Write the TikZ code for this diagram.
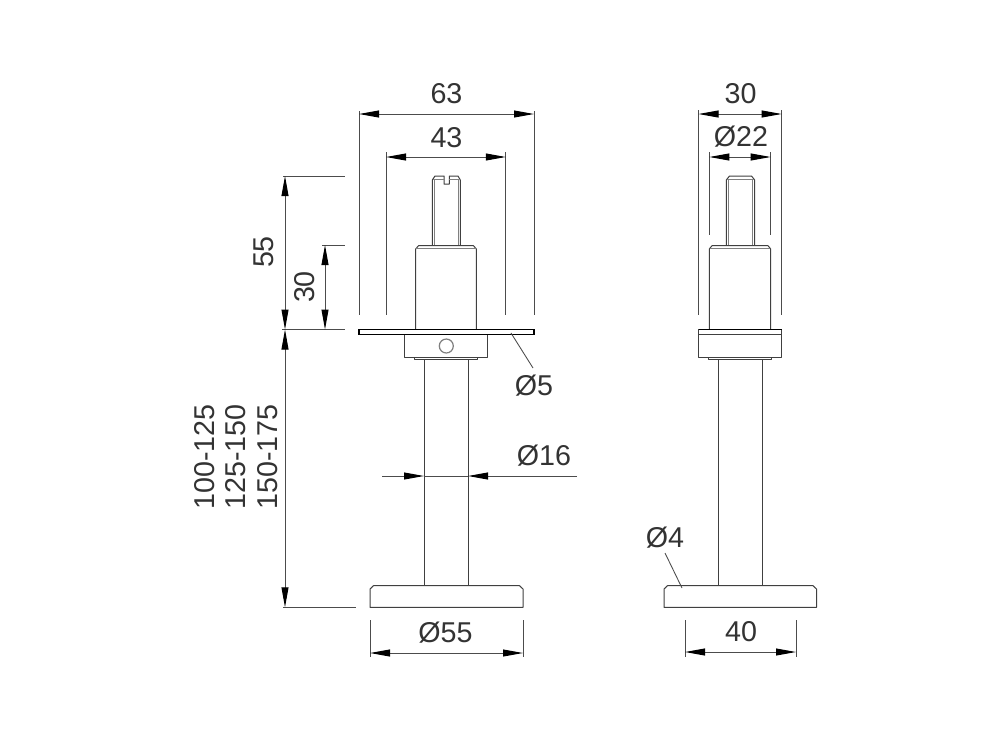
\documentclass[tikz,border=0pt]{standalone}
\usepackage{fontspec}
\setmainfont{Liberation Sans}
\usetikzlibrary{arrows.meta}
\tikzset{
  part/.style={draw=black!75,line width=0.75pt,line join=round},
  thinpart/.style={draw=black!50,line width=0.65pt},
  heavy/.style={draw=black,line width=1pt},
  extline/.style={draw=black!70,line width=0.65pt},
  dimhead/.tip={Triangle[length=15pt,width=5.2pt,color=black,fill=black]},
  dimline/.style={draw=black!70,line width=0.75pt,dimhead-dimhead},
  onehead/.style={draw=black!70,line width=0.75pt,-dimhead},
  lbl/.style={font=\fontsize{21.5}{21.5}\selectfont,text=black!80,inner sep=0pt},
}
\begin{document}
\begin{tikzpicture}[x=0.75pt,y=-0.75pt]
\useasboundingbox (0,0) rectangle (1000,736);
\fill[white] (0,0) rectangle (1000,736);
% ---------- left view ----------
\draw[part] (432.3,245.5) -- (432.3,180) -- (435,176) -- (444,176) -- (444,184) -- (449.3,184) -- (449.3,176) -- (458,176) -- (460.3,180) -- (460.3,245.5);
\draw[thinpart] (434.3,179) -- (434.3,245.5) (458.2,179) -- (458.2,245.5) (433,179) -- (444,179) (449.3,179) -- (460,179);
\draw[part] (415.7,329.5) -- (415.7,249) -- (418.5,245.7) -- (473.5,245.7) -- (476.3,249) -- (476.3,329.5);
\draw[thinpart] (416,248) -- (476,248);
\draw[heavy,fill=white] (359,329.5) rectangle (534,334.7);
\draw[part] (404.5,334.7) -- (404.5,357) -- (487.7,357) -- (487.7,334.7);
\draw[part] (414,357) -- (414,359.6) -- (477.7,359.6) -- (477.7,357);
\draw[thinpart,line width=0.9pt] (446.3,346) circle (7);
\draw[part] (424,359.6) -- (424,585.7) (468,359.6) -- (468,585.7);
\draw[part] (370,607.3) -- (370,589) -- (373.5,585.7) -- (519.5,585.7) -- (523,589) -- (523,607.3) -- cycle;
% ---------- right view ----------
\draw[part] (726.3,245.5) -- (726.3,180) -- (729.5,176) -- (751.5,176) -- (754.7,180) -- (754.7,245.5);
\draw[thinpart] (728.6,179) -- (728.6,245.5) (752.4,179) -- (752.4,245.5) (727,179) -- (754,179);
\draw[part] (709.3,329.5) -- (709.3,249) -- (712,245.7) -- (768,245.7) -- (770.7,249) -- (770.7,329.5);
\draw[thinpart] (710,248) -- (770,248);
\draw[part] (698.5,329.5) rectangle (781.7,357);
\draw[heavy] (698.5,329.5) -- (781.7,329.5);
\draw[part] (698.5,334.7) -- (781.7,334.7);
\draw[part] (708.5,357) -- (708.5,359.6) -- (771.5,359.6) -- (771.5,357);
\draw[part] (718,359.6) -- (718,585.7) (762.5,359.6) -- (762.5,585.7);
\draw[part] (664,607.3) -- (664,589) -- (667.5,585.7) -- (813,585.7) -- (816.5,589) -- (816.5,607.3) -- cycle;
% ---------- extension lines ----------
\draw[extline] (359,111) -- (359,315) (534,111) -- (534,315);
\draw[extline] (386,152) -- (386,315) (505.8,152) -- (505.8,315);
\draw[extline] (698.5,110) -- (698.5,315) (781.7,110) -- (781.7,315);
\draw[extline] (709.3,152) -- (709.3,235) (770.7,152) -- (770.7,235);
\draw[extline] (283,176) -- (345,176) (282,329.5) -- (345,329.5);
\draw[extline] (322,245) -- (345,245);
\draw[extline] (283,607.3) -- (356,607.3);
\draw[extline] (370,620) -- (370,657) (523,620) -- (523,657);
\draw[extline] (685,620) -- (685,657) (796,620) -- (796,657);
% ---------- dimension lines ----------
\draw[dimline] (359,114) -- (534,114);
\draw[dimline] (386,157) -- (505.8,157);
\draw[dimline] (698.5,114) -- (781.7,114);
\draw[dimline] (709.3,157) -- (770.7,157);
\draw[dimline] (285,176) -- (285,329.5);
\draw[dimline] (325,245) -- (325,329.5);
\draw[dimline] (285,329.5) -- (285,607.3);
\draw[dimline] (370,653) -- (523,653);
\draw[dimline] (685,652) -- (796,652);
\draw[onehead] (382,476) -- (424,476);
\draw[onehead] (577,476) -- (468,476);
\draw[extline] (424,476) -- (468,476);
% ---------- leaders ----------
\draw[extline] (511,333) -- (533,368);
\draw[extline] (665,553) -- (682,588);
% ---------- labels ----------
\node[lbl] (l63) at (446.5,94) {63};
\node[lbl] (l43) at (446.5,138) {43};
\node[lbl] (r30) at (740.5,94) {30};
\node[lbl] (r22) at (741,137) {Ø22};
\node[lbl,rotate=90] (l55) at (264,252) {55};
\node[lbl,rotate=90] (l30) at (305,287) {30};
\node[lbl,rotate=90] (la) at (205,457) {100-125};
\node[lbl,rotate=90] (lb) at (236,457) {125-150};
\node[lbl,rotate=90] (lc) at (268,457) {150-175};
\node[lbl] (l5) at (534,386) {Ø5};
\node[lbl] (l16) at (544,456) {Ø16};
\node[lbl] (l55b) at (445.5,633) {Ø55};
\node[lbl] (r4) at (665,538) {Ø4};
\node[lbl] (r40) at (741,632) {40};
\end{tikzpicture}
\end{document}
